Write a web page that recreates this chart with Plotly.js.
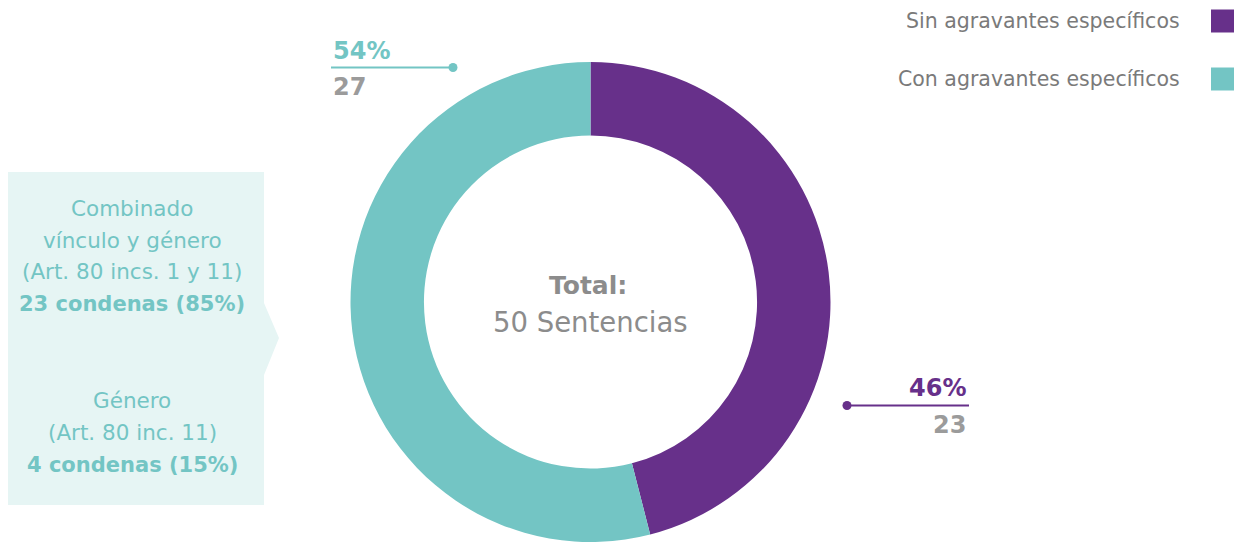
<!DOCTYPE html>
<html><head><meta charset="utf-8">
<script src="https://cdn.plot.ly/plotly-3.0.1.min.js"></script>
<style>html,body{margin:0;padding:0;overflow:hidden;background:#fff}#chart{width:1240px;height:542px}</style>
</head><body><div id="chart"></div>
<script>
// ---- data ----
const categories = ['Sin agravantes específicos', 'Con agravantes específicos'];
const counts = [23, 27];
const colors = ['#67308A', '#73C5C4'];
const totalLabel = 'Total:';
const totalUnit = 'Sentencias';
const breakdownTitles = [['Combinado', 'vínculo y género', '(Art. 80 incs. 1 y 11)'], ['Género', '(Art. 80 inc. 11)']];
const breakdownCounts = [23, 4];
const breakdownPcts = [85, 15];

// ---- helpers ----
const W = 1240, H = 542;
const px = x => x / W, py = y => 1 - y / H;
const FONT = '"DejaVu Sans", sans-serif';
const total = counts.reduce((a, b) => a + b, 0);
const pct = counts.map(c => Math.round(c / total * 100));
const grey = '#9B9B9B';

const annotations = [];
const shapes = [];
function txt(text, x, y, opt) {
  annotations.push(Object.assign({
    text: text, x: px(x), y: py(y), xref: 'paper', yref: 'paper',
    showarrow: false, xanchor: 'center', yanchor: 'middle',
    font: {family: FONT, size: 20, color: grey}
  }, opt || {}));
}

// left box with arrow notch
shapes.push({type: 'path', xref: 'paper', yref: 'paper', layer: 'below',
  path: `M${px(8)},${py(172)} L${px(264)},${py(172)} L${px(264)},${py(303)} L${px(279)},${py(338)} L${px(264)},${py(375)} L${px(264)},${py(505)} L${px(8)},${py(505)} Z`,
  fillcolor: '#E6F5F4', line: {width: 0}});

// box texts
const teal = colors[1];
let yy = [208, 240, 271];
breakdownTitles[0].forEach((t, i) => txt(t, 132, yy[i], {font: {family: FONT, size: 21.5, color: teal}}));
txt(`<b>${breakdownCounts[0]} condenas (${breakdownPcts[0]}%)</b>`, 132, 304, {font: {family: FONT, size: 21, color: teal}});
yy = [400, 432];
breakdownTitles[1].forEach((t, i) => txt(t, 132, yy[i], {font: {family: FONT, size: 21.5, color: teal}}));
txt(`<b>${breakdownCounts[1]} condenas (${breakdownPcts[1]}%)</b>`, 132, 465, {font: {family: FONT, size: 21, color: teal}});

// center texts
txt(`<b>${totalLabel}</b>`, 588, 285, {font: {family: FONT, size: 25, color: '#8C8C8C'}});
txt(`${total} ${totalUnit}`, 590, 322, {font: {family: FONT, size: 27.5, color: '#8C8C8C'}});

// callout: Con (teal) top-left
txt(`<b>${pct[1]}%</b>`, 331, 51, {xanchor: 'left', font: {family: FONT, size: 24, color: colors[1]}});
txt(`<b>${counts[1]}</b>`, 331, 87, {xanchor: 'left', font: {family: FONT, size: 24, color: grey}});
shapes.push({type: 'line', xref: 'paper', yref: 'paper', x0: px(331), x1: px(453), y0: py(67.5), y1: py(67.5), line: {color: colors[1], width: 2}});
shapes.push({type: 'circle', xref: 'paper', yref: 'paper', x0: px(448.5), x1: px(457.5), y0: py(63), y1: py(72), fillcolor: colors[1], line: {width: 0}});

// callout: Sin (purple) right
txt(`<b>${pct[0]}%</b>`, 968, 388, {xanchor: 'right', font: {family: FONT, size: 24, color: colors[0]}});
txt(`<b>${counts[0]}</b>`, 968, 425, {xanchor: 'right', font: {family: FONT, size: 24, color: grey}});
shapes.push({type: 'line', xref: 'paper', yref: 'paper', x0: px(847), x1: px(969), y0: py(405.5), y1: py(405.5), line: {color: colors[0], width: 2}});
shapes.push({type: 'circle', xref: 'paper', yref: 'paper', x0: px(842.5), x1: px(851.5), y0: py(401), y1: py(410), fillcolor: colors[0], line: {width: 0}});

// legend (text left of swatch)
const legY = [21, 79];
categories.forEach((c, i) => {
  txt(c, 1182, legY[i], {xanchor: 'right', font: {family: FONT, size: 20.5, color: '#7A7A7A'}});
  shapes.push({type: 'rect', xref: 'paper', yref: 'paper', x0: px(1211), x1: px(1234), y0: py(legY[i] - 11.5), y1: py(legY[i] + 11.5), fillcolor: colors[i], line: {width: 0}});
});

const trace = {
  type: 'pie', labels: categories, values: counts, hole: 0.694,
  sort: false, direction: 'clockwise', rotation: 0,
  marker: {colors: colors, line: {width: 0}},
  textinfo: 'none', hoverinfo: 'none', showlegend: false,
  domain: {x: [px(350.5), px(830.5)], y: [0, py(62)]}
};

Plotly.newPlot('chart', [trace], {
  width: W, height: H, margin: {l: 0, r: 0, t: 0, b: 0},
  paper_bgcolor: '#fff', plot_bgcolor: '#fff', showlegend: false,
  annotations: annotations, shapes: shapes
}, {staticPlot: true});
</script></body></html>
